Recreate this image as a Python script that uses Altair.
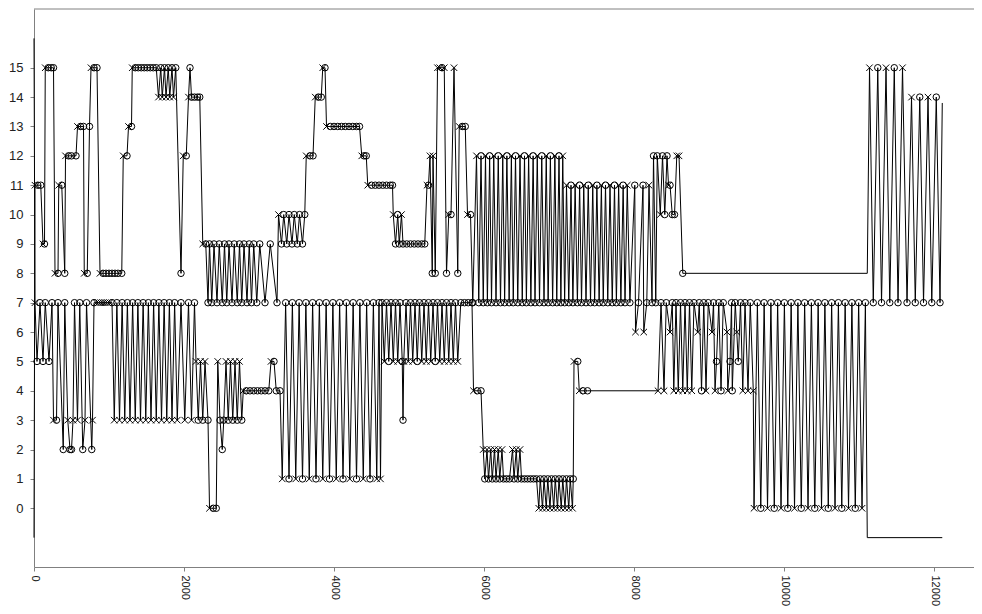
import altair as alt
import pandas as pd

# (x, y, marker) ; marker "" = no symbol
upper_points = [
    (0, -1, ""),
    (13, 11, "x"), (50, 11, "o"), (90, 11, "o"),
    (120, 9, "x"), (140, 9, "o"),
    (150, 15, "x"), (190, 15, "o"), (230, 15, "o"), (260, 15, "o"),
    (280, 8, "x"), (320, 8, "o"),
    (330, 11, "x"), (370, 11, "o"),
    (410, 8, "o"),
    (420, 12, "x"), (460, 12, "o"), (500, 12, "o"), (560, 12, "o"),
    (580, 13, "x"), (620, 13, "o"), (660, 13, "o"),
    (670, 8, "x"), (710, 8, "o"),
    (740, 13, "o"),
    (760, 15, "x"), (800, 15, "o"), (840, 15, "o"),
    (880, 8, "x"), (920, 8, "o"), (960, 8, "o"), (1000, 8, "o"), (1040, 8, "o"), (1080, 8, "o"), (1120, 8, "o"), (1170, 8, "o"),
    (1190, 12, "x"), (1240, 12, "o"),
    (1260, 13, "x"), (1300, 13, "o"),
    (1310, 15, "x"), (1350, 15, "o"), (1390, 15, "o"), (1430, 15, "o"), (1470, 15, "o"), (1510, 15, "o"), (1550, 15, "o"), (1590, 15, "o"), (1630, 15, "o"),
    (1660, 14, "x"), (1690, 15, "o"), (1710, 14, "x"), (1740, 15, "o"), (1760, 14, "x"), (1790, 15, "o"), (1810, 14, "x"), (1840, 15, "o"), (1860, 14, "x"), (1890, 15, "o"),
    (1960, 8, "o"),
    (1990, 12, "x"), (2030, 12, "o"),
    (2060, 14, "x"), (2080, 15, "o"), (2100, 14, "o"), (2140, 14, "o"), (2180, 14, "o"), (2210, 14, "o"),
    (2250, 9, "x"), (2290, 9, "o"),
    (2320, 7, "o"), (2340, 9, "o"), (2370, 7, "o"), (2400, 9, "o"), (2440, 7, "o"), (2470, 9, "o"), (2510, 7, "o"), (2540, 9, "o"),
    (2570, 7, "o"), (2600, 9, "o"), (2640, 7, "o"), (2670, 9, "o"), (2710, 7, "o"), (2740, 9, "o"), (2770, 7, "o"), (2800, 9, "o"),
    (2840, 7, "o"), (2870, 9, "o"), (2900, 7, "o"), (2930, 9, "o"), (2970, 7, "o"), (3010, 9, "o"), (3080, 7, "o"), (3150, 9, "o"),
    (3240, 7, "o"),
    (3260, 10, "x"), (3300, 9, "o"), (3330, 10, "o"), (3370, 9, "o"), (3400, 10, "o"), (3440, 9, "o"), (3470, 10, "o"), (3510, 9, "o"),
    (3540, 10, "o"), (3580, 9, "o"), (3610, 10, "o"),
    (3630, 12, "x"), (3680, 12, "o"), (3720, 12, "o"),
    (3750, 14, "x"), (3790, 14, "o"), (3830, 14, "o"),
    (3850, 15, "x"), (3880, 15, "o"),
    (3900, 13, "x"), (3950, 13, "o"), (4000, 13, "o"), (4050, 13, "o"), (4100, 13, "o"), (4150, 13, "o"), (4200, 13, "o"), (4250, 13, "o"), (4300, 13, "o"), (4340, 13, "o"),
    (4370, 12, "x"), (4400, 12, "o"), (4430, 12, "o"),
    (4450, 11, "x"), (4500, 11, "o"), (4550, 11, "o"), (4600, 11, "o"), (4650, 11, "o"), (4700, 11, "o"), (4750, 11, "o"), (4780, 11, "o"),
    (4790, 10, "x"), (4820, 9, "o"), (4850, 10, "o"), (4870, 9, "o"), (4900, 10, "x"), (4920, 9, "o"),
    (4970, 9, "o"), (5020, 9, "o"), (5070, 9, "o"), (5120, 9, "o"), (5170, 9, "o"), (5210, 9, "o"),
    (5240, 11, "x"), (5260, 11, "o"), (5280, 12, "x"), (5310, 8, "o"), (5320, 12, "x"), (5350, 8, "o"),
    (5380, 15, "x"), (5410, 15, "x"), (5440, 15, "o"), (5470, 15, "x"), (5500, 8, "o"),
    (5530, 10, "x"), (5560, 10, "o"), (5600, 15, "x"), (5650, 8, "o"),
    (5670, 13, "x"), (5710, 13, "o"), (5750, 13, "o"), (5780, 10, "x"), (5820, 10, "o"),
    (5850, 7, "o"),
    (5900, 12, "x"), (5930, 7, "o"), (5960, 12, "o"), (5990, 7, "o"), (6020, 12, "x"), (6045, 7, "o"), (6075, 12, "o"), (6100, 7, "o"),
    (6130, 12, "x"), (6160, 7, "o"), (6190, 12, "o"), (6220, 7, "o"), (6250, 12, "x"), (6275, 7, "o"), (6305, 12, "o"), (6335, 7, "o"),
    (6365, 12, "x"), (6390, 7, "o"), (6420, 12, "o"), (6450, 7, "o"), (6480, 12, "x"), (6510, 7, "o"), (6540, 12, "o"), (6565, 7, "o"),
    (6595, 12, "x"), (6625, 7, "o"), (6655, 12, "o"), (6680, 7, "o"), (6710, 12, "x"), (6740, 7, "o"), (6770, 12, "o"), (6800, 7, "o"),
    (6830, 12, "x"), (6855, 7, "o"), (6885, 12, "o"), (6915, 7, "o"), (6945, 12, "x"), (6970, 7, "o"), (7000, 12, "o"), (7025, 7, "o"),
    (7050, 12, "x"), (7075, 7, "o"),
    (7100, 11, "x"), (7130, 7, "o"), (7160, 11, "o"), (7185, 7, "o"), (7215, 11, "x"), (7245, 7, "o"), (7275, 11, "o"), (7300, 7, "o"),
    (7330, 11, "x"), (7360, 7, "o"), (7390, 11, "o"), (7420, 7, "o"), (7450, 11, "x"), (7475, 7, "o"), (7505, 11, "o"), (7535, 7, "o"),
    (7565, 11, "x"), (7590, 7, "o"), (7620, 11, "o"), (7650, 7, "o"), (7680, 11, "x"), (7710, 7, "o"), (7740, 11, "o"), (7765, 7, "o"),
    (7795, 11, "x"), (7825, 7, "o"), (7855, 11, "o"), (7880, 7, "o"), (7910, 11, "x"), (7945, 7, "o"),
    (8010, 11, "o"), (8020, 6, "x"), (8060, 7, "o"), (8120, 11, "o"), (8130, 6, "x"), (8170, 7, "o"), (8200, 11, "x"), (8240, 7, "o"),
    (8260, 12, "o"), (8290, 7, "o"), (8310, 12, "o"), (8350, 10, "x"), (8380, 12, "o"), (8410, 10, "o"), (8440, 12, "o"),
    (8460, 11, "x"), (8480, 11, "o"), (8510, 10, "o"), (8540, 10, "o"), (8570, 12, "x"), (8600, 12, "x"),
    (8650, 8, "o"), (11110, 8, ""),
    (11140, 15, "x"), (11190, 7, "o"), (11250, 15, "o"), (11300, 7, "o"), (11360, 15, "x"), (11410, 7, "o"), (11470, 15, "o"), (11520, 7, "o"),
    (11580, 15, "x"), (11640, 7, "o"),
    (11700, 14, "x"), (11750, 7, "o"), (11810, 14, "o"), (11860, 7, "o"), (11920, 14, "x"), (11970, 7, "o"), (12030, 14, "o"), (12080, 7, "o"),
    (12110, 13.8, ""),
]

lower_points = [
    (0, 16, ""),
    (13, 7, "x"), (40, 5, "o"), (80, 7, "o"), (120, 5, "o"), (150, 7, "o"), (200, 5, "o"), (240, 7, "o"),
    (260, 3, "x"), (300, 3, "o"), (320, 7, "o"), (390, 2, "o"), (410, 7, "o"), (450, 3, "x"), (480, 2, "o"), (500, 2, "o"),
    (520, 3, "x"), (540, 7, "o"), (580, 3, "x"), (610, 7, "o"), (650, 2, "o"), (680, 3, "x"), (700, 7, "o"), (770, 2, "o"),
    (780, 3, "x"), (800, 7, "o"),
    (830, 7, "x"), (860, 7, "x"), (890, 7, "x"), (920, 7, "x"), (950, 7, "x"), (980, 7, "x"), (1010, 7, "x"), (1040, 7, "o"),
    (1070, 3, "x"), (1105, 7, "o"), (1140, 3, "x"), (1175, 7, "o"), (1210, 3, "x"), (1245, 7, "o"), (1280, 3, "x"), (1315, 7, "o"),
    (1350, 3, "x"), (1385, 7, "o"), (1420, 3, "x"), (1455, 7, "o"), (1490, 3, "x"), (1525, 7, "o"), (1560, 3, "x"), (1595, 7, "o"),
    (1630, 3, "x"), (1665, 7, "o"), (1700, 3, "x"), (1735, 7, "o"), (1770, 3, "x"), (1805, 7, "o"), (1840, 3, "x"), (1875, 7, "o"),
    (1910, 3, "x"), (1960, 7, "o"), (2010, 3, "x"), (2060, 7, "o"), (2100, 3, "x"), (2140, 7, "o"),
    (2160, 5, "x"), (2190, 3, "o"), (2220, 5, "x"), (2250, 3, "o"), (2280, 5, "x"), (2320, 3, "o"),
    (2340, 0, "x"), (2390, 0, "o"), (2430, 0, "o"),
    (2450, 5, "x"), (2480, 3, "o"), (2510, 2, "o"), (2530, 3, "o"), (2560, 5, "x"), (2590, 3, "o"), (2620, 5, "x"), (2650, 3, "o"),
    (2680, 5, "x"), (2710, 3, "o"), (2740, 5, "x"), (2770, 3, "o"),
    (2790, 4, "x"), (2830, 4, "o"), (2880, 4, "o"), (2930, 4, "o"), (2980, 4, "o"), (3030, 4, "o"), (3080, 4, "o"), (3130, 4, "o"),
    (3160, 5, "x"), (3200, 5, "o"), (3230, 4, "o"), (3280, 4, "o"),
    (3310, 1, "x"), (3355, 7, "o"), (3400, 1, "o"), (3445, 7, "o"), (3490, 1, "x"), (3535, 7, "o"), (3580, 1, "o"), (3625, 7, "o"),
    (3670, 1, "x"), (3715, 7, "o"), (3760, 1, "o"), (3805, 7, "o"), (3850, 1, "x"), (3895, 7, "o"), (3940, 1, "o"), (3985, 7, "o"),
    (4030, 1, "x"), (4075, 7, "o"), (4120, 1, "o"), (4165, 7, "o"), (4210, 1, "x"), (4255, 7, "o"), (4300, 1, "o"), (4345, 7, "o"),
    (4390, 1, "x"), (4435, 7, "o"), (4480, 1, "o"), (4525, 7, "o"), (4570, 1, "x"), (4600, 7, "o"), (4620, 1, "x"),
    (4640, 7, "o"), (4670, 5, "x"), (4700, 7, "o"), (4730, 5, "o"), (4760, 7, "o"), (4790, 5, "x"), (4820, 7, "o"), (4850, 5, "x"),
    (4880, 7, "o"), (4910, 5, "o"), (4920, 3, "o"), (4930, 5, "x"), (4960, 7, "o"), (4990, 5, "x"), (5020, 7, "o"), (5050, 5, "x"),
    (5080, 7, "o"), (5110, 5, "o"), (5140, 7, "o"), (5170, 5, "x"), (5200, 7, "o"), (5230, 5, "x"), (5260, 7, "o"), (5290, 5, "x"),
    (5320, 7, "o"), (5350, 5, "o"), (5380, 7, "o"), (5410, 5, "x"), (5440, 7, "o"), (5470, 5, "x"), (5500, 7, "o"), (5530, 5, "x"),
    (5560, 7, "o"), (5590, 5, "x"), (5620, 7, "o"), (5650, 5, "x"),
    (5690, 7, "o"), (5740, 7, "o"), (5790, 7, "o"), (5840, 7, "o"),
    (5860, 4, "x"), (5910, 4, "o"), (5960, 4, "o"), (5990, 2, "x"),
    (6010, 1, "o"), (6040, 2, "x"), (6060, 1, "o"), (6090, 2, "x"), (6110, 1, "o"), (6140, 2, "x"), (6160, 1, "o"), (6190, 2, "x"),
    (6210, 1, "o"), (6240, 2, "x"), (6260, 1, "o"),
    (6300, 1, "o"), (6340, 1, "o"), (6380, 2, "x"), (6400, 1, "o"), (6430, 2, "x"), (6450, 1, "o"), (6480, 2, "x"), (6500, 1, "o"),
    (6540, 1, "o"), (6580, 1, "o"), (6620, 1, "o"), (6660, 1, "o"), (6700, 1, "o"),
    (6730, 0, "x"), (6750, 1, "o"), (6780, 0, "x"), (6800, 1, "o"), (6830, 0, "x"), (6850, 1, "o"), (6880, 0, "x"), (6900, 1, "o"),
    (6930, 0, "x"), (6950, 1, "o"), (6980, 0, "x"), (7000, 1, "o"), (7030, 0, "x"), (7050, 1, "o"), (7080, 0, "x"), (7100, 1, "o"),
    (7130, 0, "x"), (7150, 1, "o"), (7180, 0, "x"), (7190, 1, "o"),
    (7200, 5, "x"), (7250, 5, "o"),
    (7270, 4, "x"), (7320, 4, "o"), (7380, 4, "o"), (8320, 4, "x"),
    (8360, 7, "o"), (8400, 4, "x"), (8430, 7, "o"), (8480, 6, "x"), (8510, 7, "o"), (8530, 4, "x"), (8560, 7, "o"), (8590, 4, "x"),
    (8620, 7, "o"), (8650, 4, "x"), (8680, 7, "o"), (8710, 4, "x"), (8740, 7, "o"), (8770, 4, "x"), (8800, 7, "o"), (8850, 6, "x"),
    (8870, 7, "o"), (8900, 4, "o"), (8930, 7, "o"), (8960, 4, "x"), (8990, 7, "o"), (9040, 6, "x"), (9060, 7, "o"), (9080, 4, "x"),
    (9100, 5, "o"), (9130, 7, "o"), (9160, 4, "o"), (9190, 7, "o"), (9240, 6, "x"), (9250, 4, "x"), (9280, 5, "o"), (9300, 7, "o"),
    (9310, 4, "o"), (9350, 7, "o"), (9370, 6, "x"), (9390, 5, "o"), (9420, 7, "o"), (9450, 4, "x"), (9480, 7, "o"), (9520, 4, "x"),
    (9550, 7, "o"), (9590, 4, "x"),
    (9600, 0, "x"), (9645, 7, "o"), (9690, 0, "o"), (9735, 7, "o"), (9780, 0, "x"), (9825, 7, "o"), (9870, 0, "o"), (9915, 7, "o"),
    (9960, 0, "x"), (10005, 7, "o"), (10050, 0, "o"), (10095, 7, "o"), (10140, 0, "x"), (10185, 7, "o"), (10230, 0, "o"), (10275, 7, "o"),
    (10320, 0, "x"), (10365, 7, "o"), (10410, 0, "o"), (10455, 7, "o"), (10500, 0, "x"), (10545, 7, "o"), (10590, 0, "o"), (10635, 7, "o"),
    (10680, 0, "x"), (10725, 7, "o"), (10770, 0, "o"), (10815, 7, "o"), (10860, 0, "x"), (10905, 7, "o"), (10950, 0, "o"), (10995, 7, "o"),
    (11040, 0, "x"), (11085, 7, "o"),
    (11110, -1, ""), (12110, -1, ""),
]

x_ticks = [0, 2000, 4000, 6000, 8000, 10000, 12000]
y_ticks = list(range(0, 16))

rows = []
for name, pts in (("upper", upper_points), ("lower", lower_points)):
    for i, (x, y, m) in enumerate(pts):
        rows.append({"trace": name, "i": i, "x": x, "y": y, "m": m})
df = pd.DataFrame(rows)

W, H = 940, 558
FONT = "Liberation Sans"

xscale = alt.Scale(domain=[0, 12533], nice=False, zero=False)
yscale = alt.Scale(domain=[-2, 17], nice=False, zero=False)

x_axis = alt.Axis(values=x_ticks, format="d", labelAngle=90, grid=False, tickSize=4, labelPadding=4,
                  domainColor="#808080", tickColor="#808080", labelColor="#222222",
                  labelFont=FONT, labelFontSize=11, title=None, labelFlush=False, labelOverlap=False)
y_axis = alt.Axis(values=y_ticks, format="d", grid=False, tickSize=4, labelPadding=7,
                  domainColor="#808080", tickColor="#808080", labelColor="#222222",
                  labelFont=FONT, labelFontSize=13, title=None, labelFlush=False, labelOverlap=False)

base = alt.Chart(df)

lines = base.mark_line(color="black", strokeWidth=1).encode(
    x=alt.X("x:Q", scale=xscale, axis=x_axis),
    y=alt.Y("y:Q", scale=yscale, axis=y_axis),
    detail="trace:N",
    order="i:Q",
)

points = base.transform_filter(alt.datum.m != "").mark_point(
    filled=False, color="black", strokeWidth=1, size=42, opacity=1
).encode(
    x=alt.X("x:Q", scale=xscale, axis=None),
    y=alt.Y("y:Q", scale=yscale, axis=None),
    shape=alt.Shape("m:N", scale=alt.Scale(domain=["o", "x"],
                                           range=["circle", "M-1,-1L1,1M-1,1L1,-1"]), legend=None),
)

top_border = alt.Chart(pd.DataFrame({"a": [0]})).mark_rule(color="#808080", strokeWidth=1).encode(
    x=alt.value(0), x2=alt.value(W), y=alt.value(0)
)

chart = alt.layer(lines, points, top_border).resolve_axis(
    x="independent", y="independent"
).properties(
    width=W, height=H,
    background="white",
    autosize=alt.AutoSizeParams(type="none"),
    padding={"left": 26, "top": 1, "right": 0, "bottom": 39},
).configure_view(stroke=None)

chart.save("out.html", embed_options={"renderer": "svg", "actions": False})
